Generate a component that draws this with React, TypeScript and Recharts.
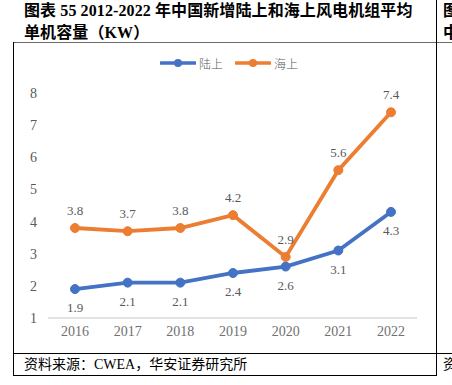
import React from "react";
import { LineChart, Line, XAxis, YAxis, LabelList } from "recharts";

const years = ["2016", "2017", "2018", "2019", "2020", "2021", "2022"];
const onshore = [1.9, 2.1, 2.1, 2.4, 2.6, 3.1, 4.3];
const offshore = [3.8, 3.7, 3.8, 4.2, 2.9, 5.6, 7.4];
const yTicks = [1, 2, 3, 4, 5, 6, 7, 8];
const seriesNames = ["陆上", "海上"];
const seriesColors = ["#4472C4", "#ED7D31"];
const titleLine1 = "图表 55 2012-2022 年中国新增陆上和海上风电机组平均";
const titleLine2 = "单机容量（KW）";
const sourceText = "资料来源：CWEA，华安证券研究所";

const data = years.map((y, i) => ({ year: y, onshore: onshore[i], offshore: offshore[i] }));

const SERIF = '"Liberation Serif", "Noto Sans CJK SC", serif';

export default function App() {
  return (
    <div
      style={{
        position: "absolute",
        left: 0,
        top: 0,
        width: 452,
        height: 385,
        overflow: "hidden",
        background: "#fff",
        fontFamily: SERIF,
      }}
    >
      {/* title */}
      <div
        style={{
          position: "absolute",
          left: 24,
          top: 0,
          fontSize: 16,
          lineHeight: "22px",
          fontWeight: "bold",
          color: "#000",
          whiteSpace: "nowrap",
          letterSpacing: "0.1px",
        }}
      >
        <div>{titleLine1}</div>
        <div>{titleLine2}</div>
      </div>
      {/* right partial column (cut by the page edge, as in the reference) */}
      <div style={{ position: "absolute", left: 443, top: 0, fontSize: 16, lineHeight: "22px", fontWeight: "bold", whiteSpace: "nowrap" }}>
        <div>图表</div>
        <div>中国</div>
      </div>
      <div style={{ position: "absolute", left: 443, top: 355, fontSize: 14, lineHeight: "20px", whiteSpace: "nowrap" }}>资料</div>

      {/* borders */}
      <div style={{ position: "absolute", left: 13, top: 42, width: 439, height: 0, borderTop: "1.5px solid #6b6b6b" }} />
      <div style={{ position: "absolute", left: 13, top: 42, width: 0, height: 334, borderLeft: "1px solid #000" }} />
      <div style={{ position: "absolute", left: 436, top: 0, width: 0, height: 376, borderLeft: "1px solid #000" }} />
      <div style={{ position: "absolute", left: 13, top: 353, width: 439, height: 0, borderTop: "1px solid #000" }} />
      <div style={{ position: "absolute", left: 13, top: 375, width: 424, height: 0, borderTop: "1px solid #000" }} />

      {/* source */}
      <div
        style={{
          position: "absolute",
          left: 24,
          top: 355,
          fontSize: 14,
          lineHeight: "20px",
          color: "#000",
          whiteSpace: "nowrap",
        }}
      >
        {sourceText}
      </div>

      {/* legend */}
      <div
        style={{
          position: "absolute",
          left: 0,
          top: 54,
          width: 458,
          display: "flex",
          justifyContent: "center",
          alignItems: "center",
          height: 18,
        }}
      >
        {seriesNames.map((n, i) => (
          <div key={n} style={{ display: "flex", alignItems: "center", marginRight: i === 0 ? 12 : 0 }}>
            <svg width={36} height={10}>
              <line x1={1} y1={5} x2={35} y2={5} stroke={seriesColors[i]} strokeWidth={3.5} strokeLinecap="round" />
              <circle cx={18} cy={5} r={4} fill={seriesColors[i]} />
            </svg>
            <span style={{ fontSize: 12, color: "#595959", marginLeft: 3, fontFamily: '"Noto Sans CJK SC", sans-serif', fontWeight: 300 }}>{n}</span>
          </div>
        ))}
      </div>

      <div style={{ position: "absolute", left: 0, top: 0 }}>
        <LineChart
          width={452}
          height={385}
          data={data}
          margin={{ top: 93, right: 35, bottom: 37, left: 18 }}
        >
          <XAxis
            dataKey="year"
            height={30}
            tickLine={false}
            axisLine={{ stroke: "#d9d9d9", strokeWidth: 1.5 }}
            padding={{ left: 27, right: 26 }}
            tick={{ fill: "#707070", fontSize: 14, fontFamily: SERIF }}
            interval={0}
          />
          <YAxis
            type="number"
            domain={[1, 8]}
            ticks={yTicks}
            width={30}
            axisLine={false}
            tickLine={false}
            tickMargin={5}
            tick={{ fill: "#595959", fontSize: 14, fontFamily: SERIF }}
          />
          <Line
            dataKey="onshore"
            name={seriesNames[0]}
            stroke={seriesColors[0]}
            strokeWidth={3.8}
            dot={{ r: 4.5, fill: seriesColors[0], stroke: seriesColors[0], strokeWidth: 1 }}
            isAnimationActive={false}
            type="linear"
          >
            <LabelList dataKey="onshore" position="bottom" offset={14} style={{ fill: "#595959", fontSize: 13, fontFamily: SERIF }} />
          </Line>
          <Line
            dataKey="offshore"
            name={seriesNames[1]}
            stroke={seriesColors[1]}
            strokeWidth={3.8}
            dot={{ r: 4.5, fill: seriesColors[1], stroke: seriesColors[1], strokeWidth: 1 }}
            isAnimationActive={false}
            type="linear"
          >
            <LabelList dataKey="offshore" position="top" offset={13} style={{ fill: "#595959", fontSize: 13, fontFamily: SERIF }} />
          </Line>
        </LineChart>
      </div>
    </div>
  );
}
